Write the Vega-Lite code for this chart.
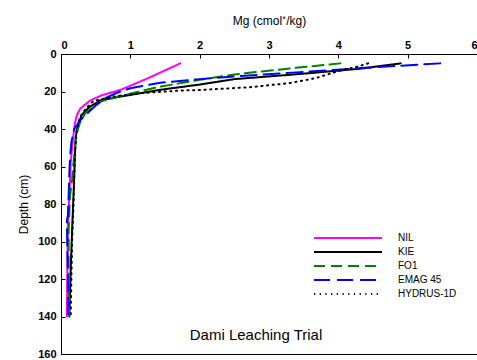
{
  "$schema": "https://vega.github.io/schema/vega-lite/v6.json",
  "width": 416,
  "height": 300,
  "autosize": {"type": "none"},
  "padding": {"left": 61, "top": 54, "right": 0, "bottom": 6},
  "background": "white",
  "title": {
    "text": "Dami Leaching Trial",
    "orient": "bottom",
    "anchor": "middle",
    "offset": -31,
    "dx": -13,
    "font": "Liberation Sans",
    "fontSize": 15,
    "fontWeight": "normal",
    "color": "black"
  },
  "config": {
    "view": {"stroke": "black", "strokeWidth": 1},
    "axis": {
      "grid": false,
      "domainColor": "black",
      "tickColor": "black",
      "tickSize": -4,
      "labelOverlap": false,
      "labelFont": "Liberation Sans",
      "labelFontWeight": "bold",
      "labelFontSize": 11,
      "labelColor": "black",
      "titleFont": "Liberation Sans",
      "titleFontWeight": "normal",
      "titleFontSize": 12,
      "titleColor": "black"
    }
  },
  "data": {
    "values": [
      {"s": "NIL", "v": 1.72, "d": 5},
      {"s": "NIL", "v": 1.25, "d": 13},
      {"s": "NIL", "v": 0.86, "d": 19.1},
      {"s": "NIL", "v": 0.59, "d": 22},
      {"s": "NIL", "v": 0.42, "d": 24.8},
      {"s": "NIL", "v": 0.28, "d": 29},
      {"s": "NIL", "v": 0.23, "d": 32.5},
      {"s": "NIL", "v": 0.2, "d": 37},
      {"s": "NIL", "v": 0.17, "d": 46},
      {"s": "NIL", "v": 0.14, "d": 58},
      {"s": "NIL", "v": 0.12, "d": 76},
      {"s": "NIL", "v": 0.1, "d": 89},
      {"s": "NIL", "v": 0.095, "d": 100},
      {"s": "NIL", "v": 0.09, "d": 120},
      {"s": "NIL", "v": 0.085, "d": 140},
      {"s": "KIE", "v": 4.9, "d": 5},
      {"s": "KIE", "v": 4.3, "d": 7.9},
      {"s": "KIE", "v": 3.4, "d": 10.8},
      {"s": "KIE", "v": 2.5, "d": 13.4},
      {"s": "KIE", "v": 2.0, "d": 16.3},
      {"s": "KIE", "v": 1.43, "d": 19.1},
      {"s": "KIE", "v": 0.86, "d": 22.7},
      {"s": "KIE", "v": 0.57, "d": 24.7},
      {"s": "KIE", "v": 0.4, "d": 28.5},
      {"s": "KIE", "v": 0.3, "d": 32.5},
      {"s": "KIE", "v": 0.24, "d": 38},
      {"s": "KIE", "v": 0.21, "d": 45},
      {"s": "KIE", "v": 0.2, "d": 55},
      {"s": "KIE", "v": 0.18, "d": 76},
      {"s": "KIE", "v": 0.16, "d": 94},
      {"s": "KIE", "v": 0.14, "d": 115},
      {"s": "KIE", "v": 0.12, "d": 140},
      {"s": "FO1", "v": 4.03, "d": 5},
      {"s": "FO1", "v": 3.3, "d": 7.7},
      {"s": "FO1", "v": 2.5, "d": 10.9},
      {"s": "FO1", "v": 2.0, "d": 13.8},
      {"s": "FO1", "v": 1.43, "d": 17.4},
      {"s": "FO1", "v": 0.86, "d": 22.3},
      {"s": "FO1", "v": 0.57, "d": 25.4},
      {"s": "FO1", "v": 0.36, "d": 31},
      {"s": "FO1", "v": 0.28, "d": 36},
      {"s": "FO1", "v": 0.24, "d": 40.5},
      {"s": "FO1", "v": 0.21, "d": 47},
      {"s": "FO1", "v": 0.18, "d": 58},
      {"s": "FO1", "v": 0.16, "d": 67},
      {"s": "FO1", "v": 0.13, "d": 76},
      {"s": "FO1", "v": 0.11, "d": 94},
      {"s": "FO1", "v": 0.11, "d": 120},
      {"s": "FO1", "v": 0.12, "d": 140},
      {"s": "EMAG 45", "v": 5.47, "d": 5},
      {"s": "EMAG 45", "v": 4.32, "d": 7.5},
      {"s": "EMAG 45", "v": 3.4, "d": 9.8},
      {"s": "EMAG 45", "v": 2.55, "d": 11.8},
      {"s": "EMAG 45", "v": 2.0, "d": 13.4},
      {"s": "EMAG 45", "v": 1.43, "d": 15.3},
      {"s": "EMAG 45", "v": 1.0, "d": 18.3},
      {"s": "EMAG 45", "v": 0.8, "d": 20.8},
      {"s": "EMAG 45", "v": 0.64, "d": 23.5},
      {"s": "EMAG 45", "v": 0.5, "d": 27.5},
      {"s": "EMAG 45", "v": 0.4, "d": 31},
      {"s": "EMAG 45", "v": 0.28, "d": 35.2},
      {"s": "EMAG 45", "v": 0.19, "d": 40},
      {"s": "EMAG 45", "v": 0.15, "d": 47},
      {"s": "EMAG 45", "v": 0.13, "d": 55},
      {"s": "EMAG 45", "v": 0.12, "d": 64},
      {"s": "EMAG 45", "v": 0.11, "d": 76},
      {"s": "EMAG 45", "v": 0.1, "d": 86},
      {"s": "EMAG 45", "v": 0.085, "d": 89},
      {"s": "EMAG 45", "v": 0.09, "d": 100},
      {"s": "EMAG 45", "v": 0.1, "d": 120},
      {"s": "EMAG 45", "v": 0.1, "d": 140},
      {"s": "HYDRUS-1D", "v": 4.43, "d": 5},
      {"s": "HYDRUS-1D", "v": 4.25, "d": 7},
      {"s": "HYDRUS-1D", "v": 4.1, "d": 8.1},
      {"s": "HYDRUS-1D", "v": 3.93, "d": 9.9},
      {"s": "HYDRUS-1D", "v": 3.67, "d": 12.9},
      {"s": "HYDRUS-1D", "v": 3.3, "d": 15.5},
      {"s": "HYDRUS-1D", "v": 2.73, "d": 17.7},
      {"s": "HYDRUS-1D", "v": 2.0, "d": 19.2},
      {"s": "HYDRUS-1D", "v": 1.72, "d": 19.5},
      {"s": "HYDRUS-1D", "v": 1.14, "d": 20.9},
      {"s": "HYDRUS-1D", "v": 0.76, "d": 22.7},
      {"s": "HYDRUS-1D", "v": 0.47, "d": 25},
      {"s": "HYDRUS-1D", "v": 0.36, "d": 29},
      {"s": "HYDRUS-1D", "v": 0.27, "d": 34},
      {"s": "HYDRUS-1D", "v": 0.22, "d": 42},
      {"s": "HYDRUS-1D", "v": 0.2, "d": 55},
      {"s": "HYDRUS-1D", "v": 0.18, "d": 80},
      {"s": "HYDRUS-1D", "v": 0.16, "d": 100},
      {"s": "HYDRUS-1D", "v": 0.14, "d": 140}
    ]
  },
  "mark": {"type": "line", "strokeCap": "round"},
  "encoding": {
    "x": {
      "field": "v",
      "type": "quantitative",
      "scale": {"domain": [0, 6], "nice": false},
      "axis": {"orient": "top", "values": [0, 1, 2, 3, 4, 5, 6], "format": "d", "title": "Mg (cmol⁺/kg)", "labelPadding": 8, "titlePadding": 12, "labelOverlap": false}
    },
    "y": {
      "field": "d",
      "type": "quantitative",
      "scale": {"domain": [0, 160], "reverse": true, "nice": false},
      "axis": {"values": [0, 20, 40, 60, 80, 100, 120, 140, 160], "format": "d", "title": "Depth (cm)", "labelPadding": 9, "titlePadding": 7, "labelOverlap": false}
    },
    "order": {"field": "d", "type": "quantitative"},
    "color": {
      "field": "s",
      "type": "nominal",
      "scale": {
        "domain": ["NIL", "KIE", "FO1", "EMAG 45", "HYDRUS-1D"],
        "range": ["#ff00ff", "#000000", "#008000", "#0000ff", "#000000"]
      },
      "legend": {
        "title": null,
        "orient": "none",
        "legendX": 281,
        "legendY": 178,
        "symbolType": "M-6.8,0L6.8,0",
        "symbolSize": 100,
        "symbolStrokeWidth": 2,
        "labelFont": "Liberation Sans",
        "labelFontSize": 10,
        "labelColor": "black",
        "labelOffset": 44,
        "rowPadding": 3,
        "padding": 0
      }
    },
    "strokeDash": {
      "field": "s",
      "type": "nominal",
      "scale": {
        "domain": ["NIL", "KIE", "FO1", "EMAG 45", "HYDRUS-1D"],
        "range": [[1, 0], [1, 0], [11, 6], [16, 7], [1.2, 4.5]]
      },
      "legend": null
    },
    "strokeWidth": {
      "field": "s",
      "type": "nominal",
      "scale": {
        "domain": ["NIL", "KIE", "FO1", "EMAG 45", "HYDRUS-1D"],
        "range": [2, 2, 2, 2, 2.8]
      },
      "legend": null
    }
  }
}
